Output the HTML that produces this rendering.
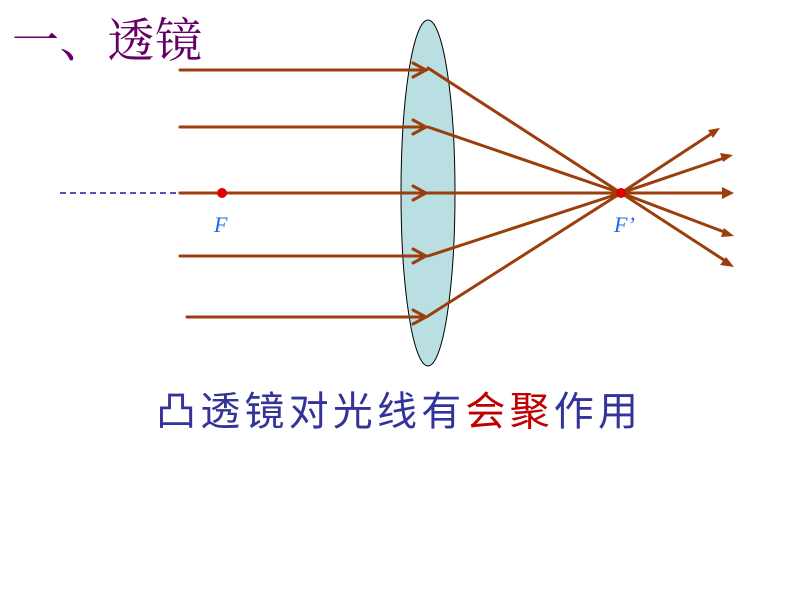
<!DOCTYPE html>
<html><head><meta charset="utf-8"><style>
body{margin:0;background:#fff;}
svg{display:block}
</style></head><body>
<svg width="800" height="600" viewBox="0 0 800 600" xmlns="http://www.w3.org/2000/svg">
<text x="12" y="57" font-family="'Liberation Serif','Noto Serif CJK SC',serif" font-size="47" fill="#660066" textLength="190" lengthAdjust="spacing">一、透镜</text>
<ellipse cx="428" cy="193" rx="27" ry="173" fill="#b9dfe2" stroke="#000" stroke-width="1"/>
<line x1="60" y1="193" x2="180" y2="193" stroke="#1a1aa0" stroke-width="1.5" stroke-dasharray="6,4"/>
<g stroke="#9c3d0c" stroke-width="3" fill="none" stroke-linecap="round">
<line x1="180" y1="70" x2="426" y2="70"/>
<line x1="180" y1="127" x2="426" y2="127"/>
<line x1="180" y1="193" x2="426" y2="193"/>
<line x1="180" y1="256" x2="426" y2="256"/>
<line x1="187" y1="317" x2="426" y2="317"/>
<polyline points="413,63 426,70 413,77"/>
<polyline points="413,120 426,127 413,134"/>
<polyline points="413,186 426,193 413,200"/>
<polyline points="413,249 426,256 413,263"/>
<polyline points="413,310 426,317 413,324"/>
<line x1="428" y1="68" x2="621" y2="193"/>
<line x1="428" y1="127" x2="621" y2="193"/>
<line x1="428" y1="193" x2="728" y2="193"/>
<line x1="428" y1="256" x2="621" y2="193"/>
<line x1="428" y1="316" x2="621" y2="193"/>
<line x1="621" y1="193" x2="714" y2="132"/>
<line x1="621" y1="193" x2="727" y2="157"/>
<line x1="621" y1="193" x2="727" y2="233"/>
<line x1="621" y1="193" x2="727" y2="262"/>
</g>
<g fill="#9c3d0c">
<polygon points="720,128 708,130 713,138"/>
<polygon points="733,155 720,153 723,162"/>
<polygon points="734,193 722,187 722,199"/>
<polygon points="734,236 724,228 721,237"/>
<polygon points="734,267 726,257 720,265"/>
</g>
<circle cx="222" cy="193" r="5" fill="#e00000"/>
<circle cx="621" cy="193" r="5" fill="#e00000"/>
<text x="214" y="232" font-family="'Liberation Serif',serif" font-style="italic" font-size="22" fill="#1a6ee0">F</text>
<text x="614" y="232" font-family="'Liberation Serif',serif" font-style="italic" font-size="22" fill="#1a6ee0">F’</text>
<text x="156" y="425" font-family="'Liberation Sans','WenQuanYi Zen Hei',sans-serif" font-size="40" fill="#333399" textLength="482" lengthAdjust="spacing">凸透镜对光线有<tspan fill="#c00000">会聚</tspan>作用</text>
</svg>
</body></html>
